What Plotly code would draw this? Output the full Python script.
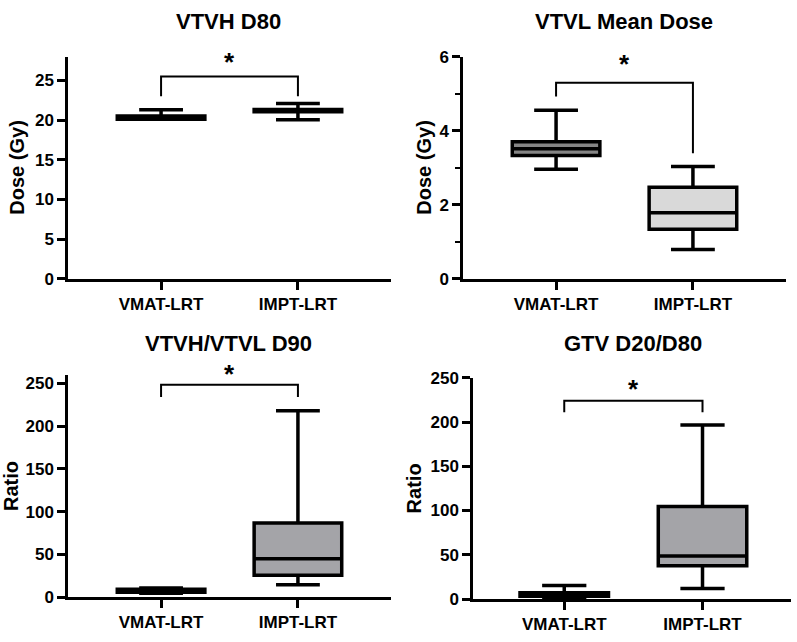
import plotly.graph_objects as go

categories = ["VMAT-LRT", "IMPT-LRT"]
panel_titles = ["VTVH D80", "VTVL Mean Dose", "VTVH/VTVL D90", "GTV D20/D80"]
y_titles = ["Dose (Gy)", "Dose (Gy)", "Ratio", "Ratio"]

# Box statistics per panel, order: [VMAT-LRT, IMPT-LRT]
p1_lower = [20.1, 20.05]
p1_q1 = [20.1, 21.05]
p1_median = [20.3, 21.2]
p1_q3 = [20.5, 21.33]
p1_upper = [21.3, 22.1]

p2_lower = [2.96, 0.79]
p2_q1 = [3.33, 1.34]
p2_median = [3.51, 1.78]
p2_q3 = [3.70, 2.47]
p2_upper = [4.55, 3.03]

p3_lower = [4.5, 14.4]
p3_q1 = [5.5, 25.6]
p3_median = [7.0, 44.7]
p3_q3 = [9.0, 86.6]
p3_upper = [10.5, 218.0]

p4_lower = [1.5, 12.0]
p4_q1 = [3.0, 37.5]
p4_median = [5.0, 48.5]
p4_q3 = [7.0, 104.5]
p4_upper = [15.3, 196.5]

# significance brackets: [bracket top, left leg bottom, right leg bottom, star y]
p1_bracket = [25.5, 23.0, 23.0, 27.3]
p2_bracket = [5.29, 4.92, 3.39, 5.8]
p3_bracket = [248.5, 234.0, 234.0, 261.0]
p4_bracket = [224.0, 211.0, 211.0, 237.0]
sig_label = "*"

y_ranges = [[0, 28], [0, 6], [0, 260], [0, 250]]
y_dticks = [5, 2, 50, 50]

W, H = 797, 642
FONT = "Liberation Sans, Arial, sans-serif"

panels = [
    dict(stats=(p1_lower, p1_q1, p1_median, p1_q3, p1_upper), br=p1_bracket,
         fills=["#9a9a9a", "#9a9a9a"], px=(68, 391), py=(49, 278), xr=(-0.68, 1.68),
         tpos=(229, 13), ytpos=17),
    dict(stats=(p2_lower, p2_q1, p2_median, p2_q3, p2_upper), br=p2_bracket,
         fills=["#858585", "#d9d9d9"], px=(463, 786), py=(49, 278), xr=(-0.68, 1.68),
         tpos=(624, 13), ytpos=424),
    dict(stats=(p3_lower, p3_q1, p3_median, p3_q3, p3_upper), br=p3_bracket,
         fills=["#a4a4a8", "#a4a4a8"], px=(68, 391), py=(377, 606), xr=(-0.68, 1.68),
         tpos=(228, 345), ytpos=11),
    dict(stats=(p4_lower, p4_q1, p4_median, p4_q3, p4_upper), br=p4_bracket,
         fills=["#a4a4a8", "#a4a4a8"], px=(473, 791), py=(380, 608), xr=(-0.66, 1.64),
         tpos=(633, 345), ytpos=414),
]

fig = go.Figure()
annotations = []
layout = {}

for i, p in enumerate(panels):
    n = "" if i == 0 else str(i + 1)
    xref, yref = "x" + n, "y" + n
    lo, q1, med, q3, up = p["stats"]
    for j, cat in enumerate(categories):
        fig.add_trace(go.Box(
            x=[cat], q1=[q1[j]], median=[med[j]], q3=[q3[j]],
            lowerfence=[lo[j]], upperfence=[up[j]],
            width=0.64, whiskerwidth=0.5, boxpoints=False,
            fillcolor=p["fills"][j], line=dict(color="black", width=3.5),
            xaxis=xref, yaxis=yref, showlegend=False, hoverinfo="skip",
        ))
    top, lleg, rleg, stary = p["br"]
    fig.add_trace(go.Scatter(
        x=[categories[0], categories[0], categories[1], categories[1]],
        y=[lleg, top, top, rleg], mode="lines",
        line=dict(color="black", width=2), cliponaxis=False,
        xaxis=xref, yaxis=yref, showlegend=False, hoverinfo="skip",
    ))
    # star: convert data value to paper coordinates so it may sit above the axis top
    d0, d1 = 1 - p["py"][1] / H, 1 - p["py"][0] / H
    r0, r1 = y_ranges[i]
    star_paper = d0 + (stary - r0) / (r1 - r0) * (d1 - d0)
    annotations.append(dict(
        x=0.5, y=star_paper, xref=xref, yref="paper", text=sig_label, showarrow=False,
        font=dict(family=FONT, size=26, color="black", weight=700),
        xanchor="center", yanchor="middle",
    ))
    # panel title
    annotations.append(dict(
        x=p["tpos"][0] / W, y=1 - p["tpos"][1] / H, xref="paper", yref="paper",
        text=panel_titles[i], showarrow=False,
        font=dict(family=FONT, size=22, color="black", weight=700),
        xanchor="center", yanchor="middle",
    ))
    # y axis title
    annotations.append(dict(
        x=p["ytpos"] / W, y=1 - (p["py"][0] + p["py"][1]) / 2 / H,
        xref="paper", yref="paper", text=y_titles[i], showarrow=False, textangle=-90,
        font=dict(family=FONT, size=20, color="black", weight=700),
        xanchor="center", yanchor="middle",
    ))
    axis_common = dict(showline=True, linecolor="black", linewidth=2.5,
                       ticks="outside", ticklen=8, tickwidth=2.5, tickcolor="black",
                       showgrid=False, zeroline=False,
                       tickfont=dict(family=FONT, size=17, color="black", weight=700))
    layout["xaxis" + n] = dict(domain=[p["px"][0] / W, p["px"][1] / W], anchor=yref,
                               range=list(p["xr"]), type="category",
                               categoryorder="array", categoryarray=categories,
                               **axis_common)
    yax = dict(domain=[d0, d1], anchor=xref,
               range=y_ranges[i], dtick=y_dticks[i], tick0=0, **axis_common)
    if i == 1:
        yax["minor"] = dict(dtick=1, ticks="outside", ticklen=5, tickwidth=2, tickcolor="black")
    layout["yaxis" + n] = yax

fig.update_layout(
    width=W, height=H, margin=dict(l=0, r=0, t=0, b=0),
    paper_bgcolor="white", plot_bgcolor="white",
    boxmode="overlay", annotations=annotations, **layout,
)

fig.write_html("out.html")
